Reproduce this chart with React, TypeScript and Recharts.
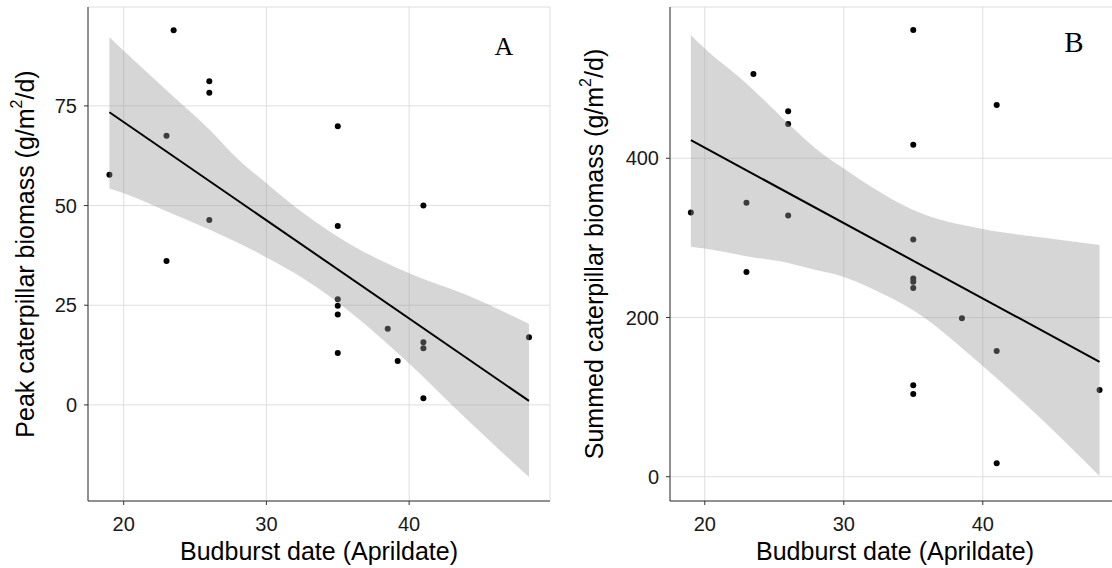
import React from 'react';
import {
  ComposedChart,
  Scatter,
  Area,
  Line,
  XAxis,
  YAxis,
  CartesianGrid,
  Label,
} from 'recharts';

// observed points
const budburstA = [19, 23, 23, 23.5, 26, 26, 26, 35, 35, 35, 35, 35, 35, 38.5, 39.2, 41, 41, 41, 41, 48.4];
const peakBiomass = [57.7, 67.5, 36.1, 94.0, 81.2, 78.3, 46.4, 69.9, 44.9, 26.5, 24.9, 22.7, 13.0, 19.1, 11.0, 50.0, 15.7, 14.2, 1.7, 17.0];

const budburstB = [19, 23, 23, 23.5, 26, 26, 26, 35, 35, 35, 35, 35, 35, 35, 35, 38.5, 41, 41, 41, 48.4];
const summedBiomass = [332, 344, 257, 506, 459, 443, 328, 561, 417, 298, 249, 245, 237, 115, 104, 199, 467, 158, 17, 109];

// confidence band edges
const bandX = [19, 20, 23, 26, 28, 30, 32, 35, 40, 44, 48.4];
const bandLowA = [54.3, 53.1, 48.6, 44.0, 40.7, 37.0, 33.0, 25.7, 10.4, -3.5, -18.1];
const bandHighA = [92.2, 88.8, 78.9, 69.1, 61.7, 55.6, 49.7, 42.2, 33.0, 27.6, 20.3];
const bandLowB = [289, 286.7, 277, 268.5, 259.5, 251, 236.5, 209, 139, 76, 1];
const bandHighB = [554.6, 537.8, 494, 443.7, 412, 387, 364, 335, 311, 301, 291];

// fitted line ends
const fitX = [19, 48.4];
const fitA = [73.4, 1.0];
const fitB = [422.7, 144.4];

const xTicks = [20, 30, 40];
const yTicksA = [0, 25, 50, 75];
const yTicksB = [0, 200, 400];

const FONT = '"Liberation Sans", Arial, sans-serif';
const X_DOMAIN: [number, number] = [17.5, 49.87];

const Dot = (props: any) => <circle cx={props.cx} cy={props.cy} r={3} fill="#000" />;

interface PanelProps {
  xs: number[];
  ys: number[];
  low: number[];
  high: number[];
  fit: number[];
  yDomain: [number, number];
  yTicks: number[];
  yTitle: string;
  yAxisWidth: number;
  titleX: number;
  width: number;
}

function Panel(p: PanelProps) {
  const points = p.xs.map((x, i) => ({ x, y: p.ys[i] }));
  const band = bandX.map((x, i) => ({ x, band: [p.low[i], p.high[i]] }));
  const line = fitX.map((x, i) => ({ x, y: p.fit[i] }));

  const renderYTitle = (props: any) => {
    const vb = props.viewBox || {};
    const cy = vb.y + vb.height / 2;
    return (
      <text
        x={p.titleX}
        y={cy}
        transform={`rotate(-90, ${p.titleX}, ${cy})`}
        textAnchor="middle"
        dominantBaseline="central"
        fontFamily={FONT}
        fontSize={25}
        fill="#000"
      >
        {p.yTitle} (g/m
        <tspan dy={-9} fontSize={16}>2</tspan>
        <tspan dy={9}>/d)</tspan>
      </text>
    );
  };

  const renderXTitle = (props: any) => {
    const vb = props.viewBox || {};
    return (
      <text
        x={vb.x + vb.width / 2}
        y={560}
        textAnchor="middle"
        fontFamily={FONT}
        fontSize={25}
        fill="#000"
      >
        Budburst date (Aprildate)
      </text>
    );
  };

  return (
    <ComposedChart
      width={p.width}
      height={568}
      margin={{ top: 7, right: 10, bottom: 0, left: 0 }}
    >
      <CartesianGrid stroke="#dedede" strokeWidth={1} />
      <XAxis
        type="number"
        dataKey="x"
        domain={X_DOMAIN}
        allowDataOverflow
        ticks={xTicks}
        height={67}
        tickSize={4}
        tickMargin={12}
        tick={{ fill: '#1a1a1a', fontSize: 20, fontFamily: FONT }}
        tickLine={{ stroke: '#333' }}
        axisLine={{ stroke: '#333' }}
      >
        <Label content={renderXTitle} />
      </XAxis>
      <XAxis
        xAxisId="top"
        orientation="top"
        type="number"
        domain={X_DOMAIN}
        height={0}
        tick={false}
        tickLine={false}
        axisLine={{ stroke: '#8a8a8a' }}
      />
      <YAxis
        type="number"
        domain={p.yDomain}
        allowDataOverflow
        ticks={p.yTicks}
        width={p.yAxisWidth}
        tickSize={4}
        tickMargin={7}
        tick={{ fill: '#1a1a1a', fontSize: 20, fontFamily: FONT }}
        tickLine={{ stroke: '#333' }}
        axisLine={{ stroke: '#333' }}
      >
        <Label content={renderYTitle} />
      </YAxis>
      <YAxis
        yAxisId="right"
        orientation="right"
        type="number"
        domain={p.yDomain}
        width={0}
        tick={false}
        tickLine={false}
        axisLine={{ stroke: '#8a8a8a' }}
      />
      <Scatter data={points} dataKey="y" shape={Dot} isAnimationActive={false} zIndex={50} />
      <Area
        data={band}
        dataKey="band"
        type="monotone"
        stroke="none"
        fill="#999999"
        fillOpacity={0.4}
        dot={false}
        activeDot={false}
        isAnimationActive={false}
      />
      <Line
        data={line}
        dataKey="y"
        type="linear"
        stroke="#000"
        strokeWidth={2}
        dot={false}
        activeDot={false}
        isAnimationActive={false}
      />
    </ComposedChart>
  );
}

const panelLetter = (left: number, top: number, size: number): React.CSSProperties => ({
  position: 'absolute',
  left,
  top,
  width: 40,
  textAlign: 'center',
  fontFamily: '"Liberation Serif", "DejaVu Serif", serif',
  fontSize: size,
  lineHeight: 1,
  color: '#000',
});

export default function App() {
  return (
    <div
      style={{
        position: 'absolute',
        left: 0,
        top: 0,
        width: 1112,
        height: 568,
        overflow: 'hidden',
        background: '#fff',
      }}
    >
      <div style={{ position: 'absolute', left: 0, top: 0 }}>
        <Panel
          xs={budburstA}
          ys={peakBiomass}
          low={bandLowA}
          high={bandHighA}
          fit={fitA}
          yDomain={[-24.1, 99.8]}
          yTicks={yTicksA}
          yTitle="Peak caterpillar biomass"
          yAxisWidth={88}
          titleX={25}
          width={560}
        />
      </div>
      <div style={{ position: 'absolute', left: 560, top: 0 }}>
        <Panel
          xs={budburstB}
          ys={summedBiomass}
          low={bandLowB}
          high={bandHighB}
          fit={fitB}
          yDomain={[-30.5, 590]}
          yTicks={yTicksB}
          yTitle="Summed caterpillar biomass"
          yAxisWidth={110}
          titleX={34}
          width={570}
        />
      </div>
      <div style={panelLetter(484, 34, 26)}>A</div>
      <div style={panelLetter(1054, 28, 29)}>B</div>
    </div>
  );
}
